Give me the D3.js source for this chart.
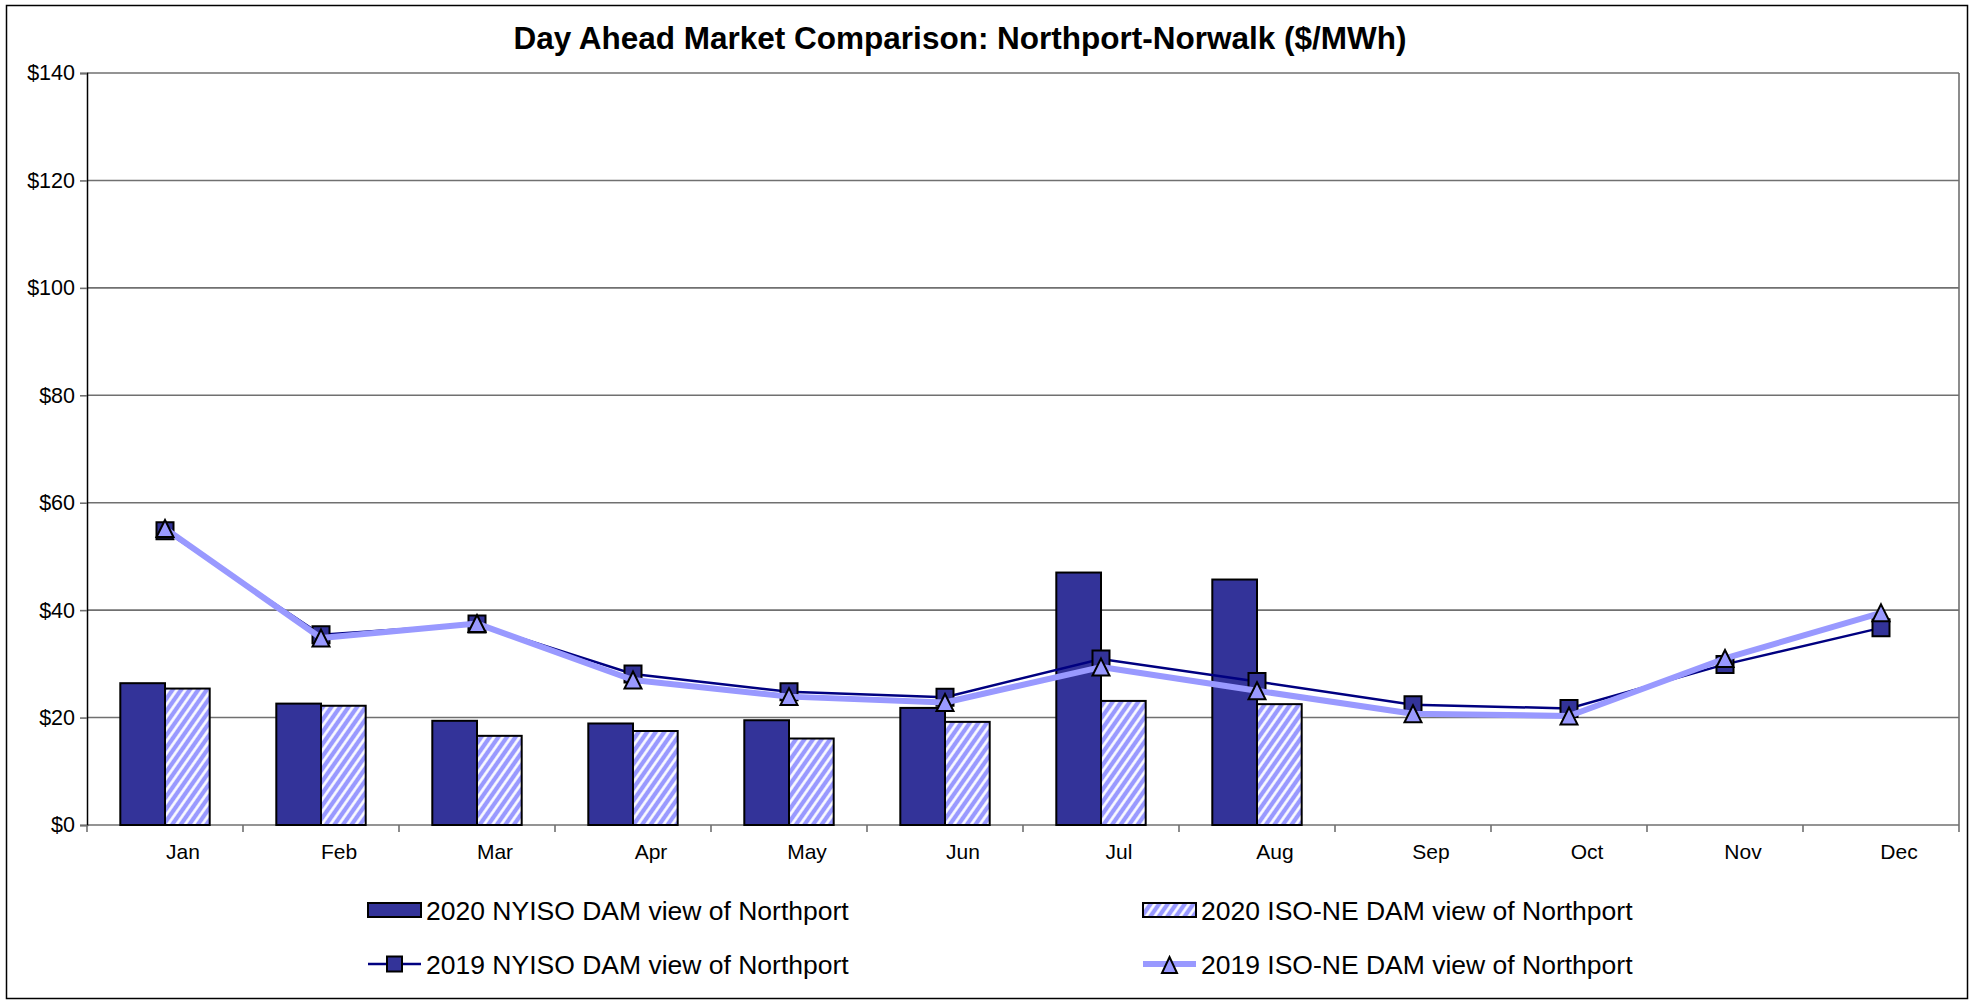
<!DOCTYPE html>
<html>
<head>
<meta charset="utf-8">
<script src="https://cdn.jsdelivr.net/npm/d3@7"></script>
<style>
  html, body { margin: 0; padding: 0; background: #fff; }
  svg { display: block; font-family: "Liberation Sans", Arial, sans-serif; }
</style>
</head>
<body>
<svg id="chart" width="1980" height="1001"></svg>
<script>
// ---- data ----
const months = ["Jan","Feb","Mar","Apr","May","Jun","Jul","Aug","Sep","Oct","Nov","Dec"];
const nyiso2020 = [26.4, 22.6, 19.4, 18.9, 19.5, 21.8, 47.0, 45.7];
const isone2020 = [25.4, 22.2, 16.6, 17.5, 16.1, 19.2, 23.1, 22.5];
const nyiso2019 = [54.8, 35.4, 37.4, 28.1, 24.8, 23.8, 30.9, 26.7, 22.4, 21.7, 29.9, 36.7];
const isone2019 = [55.2, 34.8, 37.5, 27.0, 23.9, 22.8, 29.4, 25.0, 20.7, 20.3, 31.0, 39.5];
const yTicks = [0, 20, 40, 60, 80, 100, 120, 140];
const seriesNames = [
  "2020 NYISO DAM view of Northport",
  "2020 ISO-NE DAM view of Northport",
  "2019 NYISO DAM view of Northport",
  "2019 ISO-NE DAM view of Northport"
];
const title = "Day Ahead Market Comparison: Northport-Norwalk ($/MWh)";

const DARK = "#333399", LIGHT = "#9999FF", NAVY = "#000080";

const svg = d3.select("#chart");
const plot = {left: 87, right: 1959, top: 73, bottom: 825};

// pattern
const defs = svg.append("defs");
const pat = defs.append("pattern").attr("id", "hatch")
  .attr("patternUnits", "userSpaceOnUse").attr("width", 7).attr("height", 7)
  .attr("patternTransform", "rotate(35)");
pat.append("rect").attr("width", 7).attr("height", 7).attr("fill", LIGHT);
pat.append("line").attr("x1", 1.5).attr("y1", -1).attr("x2", 1.5).attr("y2", 8)
  .attr("stroke", "#fff").attr("stroke-width", 2.6);

// outer frame
svg.append("rect").attr("x", 6.5).attr("y", 5.5).attr("width", 1961).attr("height", 993)
  .attr("fill", "#fff").attr("stroke", "#000").attr("stroke-width", 1.5);

// title
svg.append("text").attr("x", 960).attr("y", 49).attr("text-anchor", "middle")
  .attr("font-size", 31.5).attr("font-weight", "bold").text(title);

const x0 = d3.scaleBand().domain(months).range([plot.left, plot.right]).paddingInner(0).paddingOuter(0);
const x1 = d3.scaleBand().domain([0, 1]).range([0, x0.bandwidth()]).paddingInner(0).paddingOuter(0.745);
const y = d3.scaleLinear().domain([0, 140]).range([plot.bottom, plot.top]);

// gridlines
svg.append("g").selectAll("line").data(yTicks).join("line")
  .attr("x1", plot.left).attr("x2", plot.right)
  .attr("y1", d => y(d)).attr("y2", d => y(d))
  .attr("stroke", "#707070").attr("stroke-width", 1.6);
// right border of plot
svg.append("line").attr("x1", plot.right).attr("x2", plot.right)
  .attr("y1", plot.top).attr("y2", plot.bottom).attr("stroke", "#707070").attr("stroke-width", 1.6);

// y axis
const yAxis = d3.axisLeft(y).tickValues(yTicks).tickSize(7).tickPadding(5)
  .tickFormat(d => "$" + d);
const gy = svg.append("g").attr("transform", `translate(${plot.left},0)`).call(yAxis);
gy.select(".domain").attr("stroke", "#000").attr("stroke-width", 1.5);
gy.selectAll(".tick line").attr("stroke", "#707070").attr("stroke-width", 1.6);
gy.selectAll(".tick text").attr("font-size", 21.5).attr("fill", "#000")
  .attr("font-family", "Liberation Sans, Arial, sans-serif");

// x axis: ticks at category boundaries
const boundaries = months.map(m => x0(m)).concat([plot.right]);
svg.append("g").selectAll("line").data(boundaries).join("line")
  .attr("x1", d => d).attr("x2", d => d)
  .attr("y1", plot.bottom).attr("y2", plot.bottom + 7)
  .attr("stroke", "#707070").attr("stroke-width", 1.6);
svg.append("g").selectAll("text").data(months).join("text")
  .attr("x", d => x0(d) + x0.bandwidth() / 2 + 18)
  .attr("y", 859).attr("text-anchor", "middle").attr("font-size", 21)
  .text(d => d);

// bars
const barG = svg.append("g");
barG.selectAll("rect.n").data(nyiso2020).join("rect").attr("class", "n")
  .attr("x", (d, i) => x0(months[i]) + x1(0)).attr("width", x1.bandwidth())
  .attr("y", d => y(d)).attr("height", d => y(0) - y(d))
  .attr("fill", DARK).attr("stroke", "#000").attr("stroke-width", 2);
barG.selectAll("rect.i").data(isone2020).join("rect").attr("class", "i")
  .attr("x", (d, i) => x0(months[i]) + x1(1)).attr("width", x1.bandwidth())
  .attr("y", d => y(d)).attr("height", d => y(0) - y(d))
  .attr("fill", "url(#hatch)").attr("stroke", "#000").attr("stroke-width", 2);

const cx = i => x0(months[i]) + x0.bandwidth() / 2;
const line = d3.line().x((d, i) => cx(i)).y(d => y(d));

// marker shapes
const triPath = (w, h) => `M0,${-h / 2}L${w / 2},${h / 2}L${-w / 2},${h / 2}Z`;
const sqPath = s => `M${-s / 2},${-s / 2}h${s}v${s}h${-s}Z`;

// 2019 NYISO line + squares
svg.append("path").datum(nyiso2019).attr("d", line)
  .attr("fill", "none").attr("stroke", NAVY).attr("stroke-width", 2.5);
svg.append("g").selectAll("path").data(nyiso2019).join("path")
  .attr("transform", (d, i) => `translate(${cx(i)},${y(d)})`)
  .attr("d", sqPath(17)).attr("fill", DARK).attr("stroke", "#000").attr("stroke-width", 2);

// 2019 ISO-NE line + triangles
svg.append("path").datum(isone2019).attr("d", line)
  .attr("fill", "none").attr("stroke", LIGHT).attr("stroke-width", 6).attr("stroke-linejoin", "round");
svg.append("g").selectAll("path").data(isone2019).join("path")
  .attr("transform", (d, i) => `translate(${cx(i)},${y(d)})`)
  .attr("d", triPath(17, 17)).attr("fill", LIGHT).attr("stroke", "#000").attr("stroke-width", 2);

// legend
const leg = svg.append("g");
const legX = [368, 1143], legY = [910, 964];
leg.append("rect").attr("x", legX[0]).attr("y", legY[0] - 7).attr("width", 53).attr("height", 14)
  .attr("fill", DARK).attr("stroke", "#000").attr("stroke-width", 2);
leg.append("rect").attr("x", legX[1]).attr("y", legY[0] - 7).attr("width", 53).attr("height", 14)
  .attr("fill", "url(#hatch)").attr("stroke", "#000").attr("stroke-width", 2);
leg.append("line").attr("x1", legX[0]).attr("x2", legX[0] + 53).attr("y1", legY[1]).attr("y2", legY[1])
  .attr("stroke", NAVY).attr("stroke-width", 2.5);
leg.append("path").attr("transform", `translate(${legX[0] + 26.5},${legY[1]})`)
  .attr("d", sqPath(15)).attr("fill", DARK).attr("stroke", "#000").attr("stroke-width", 2);
leg.append("line").attr("x1", legX[1]).attr("x2", legX[1] + 53).attr("y1", legY[1]).attr("y2", legY[1])
  .attr("stroke", LIGHT).attr("stroke-width", 6);
leg.append("path").attr("transform", `translate(${legX[1] + 26.5},${legY[1] + 1})`)
  .attr("d", triPath(15, 16)).attr("fill", LIGHT).attr("stroke", "#000").attr("stroke-width", 2);

const legItems = [
  {x: legX[0], y: legY[0], t: seriesNames[0]},
  {x: legX[1], y: legY[0], t: seriesNames[1]},
  {x: legX[0], y: legY[1], t: seriesNames[2]},
  {x: legX[1], y: legY[1], t: seriesNames[3]}
];
leg.selectAll("text").data(legItems).join("text")
  .attr("x", d => d.x + 58).attr("y", d => d.y + 9.5)
  .attr("font-size", 26.5).text(d => d.t);
</script>
</body>
</html>
